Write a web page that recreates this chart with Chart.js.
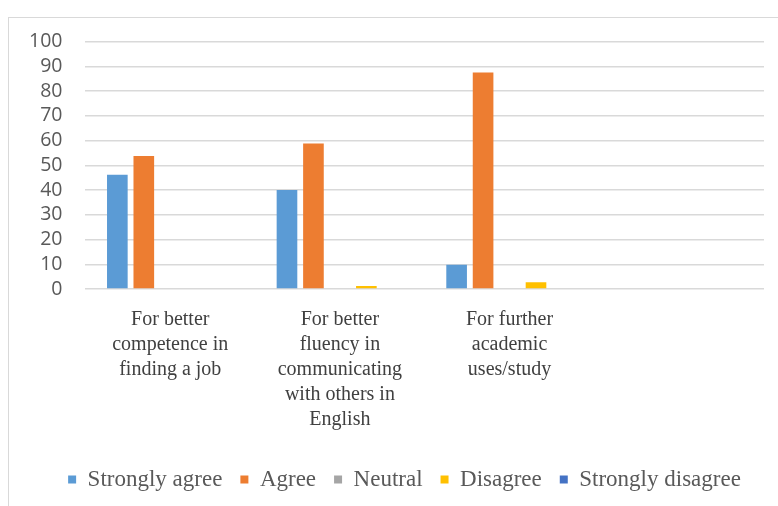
<!DOCTYPE html>
<html>
<head>
<meta charset="utf-8">
<script src="https://cdn.jsdelivr.net/npm/chart.js@4/dist/chart.umd.min.js"></script>
<style>
  body { margin: 0; background: #fff; overflow: hidden; }
  #frame {
    position: absolute; left: 8px; top: 17px;
    width: 800px; height: 500px;
    border-left: 1.5px solid #d9d9d9; border-top: 1.5px solid #d9d9d9;
  }
  #wrap { position: absolute; left: 0; top: 0; width: 792px; height: 489px; }
</style>
</head>
<body>
<div id="frame"><div id="wrap"><canvas id="grafico"></canvas></div></div>
<script>
// categorias (a última fica vazia, como no original)
var categories = [
  ['For better', 'competence in', 'finding a job'],
  ['For better', 'fluency in', 'communicating', 'with others in', 'English'],
  ['For further', 'academic', 'uses/study'],
  ''
];

// valores por série (%)
var stronglyAgree    = [46.2, 40, 9.8, null];
var agree            = [53.8, 58.8, 87.5, null];
var neutral          = [0, 0, 0, null];
var disagree         = [0, 1.2, 2.7, null];
var stronglyDisagree = [0, 0, 0, null];

var yTicks = [0, 10, 20, 30, 40, 50, 60, 70, 80, 90, 100];

var data = {
  labels: categories,
  datasets: [
    { label: 'Strongly agree', backgroundColor: '#5B9BD5', data: stronglyAgree },
    { label: 'Agree', backgroundColor: '#ED7D31', data: agree },
    { label: 'Neutral', backgroundColor: '#A5A5A5', data: neutral },
    { label: 'Disagree', backgroundColor: '#FFC000', data: disagree },
    { label: 'Strongly disagree', backgroundColor: '#4472C4', data: stronglyDisagree }
  ]
};

// empurra a legenda um pouco para a direita, como no original
var moveLegend = {
  id: 'moveLegend',
  afterLayout: function (chart) {
    chart.legend.left += 14;
    chart.legend.right += 14;
  }
};

var options = {
  responsive: true,
  maintainAspectRatio: false,
  animation: false,
  layout: { padding: { left: 8, right: 37, top: 0, bottom: 6 } },
  datasets: { bar: { categoryPercentage: 0.78, barPercentage: 0.78 } },
  plugins: {
    tooltip: { enabled: false },
    legend: {
      position: 'bottom',
      labels: {
        boxWidth: 8, boxHeight: 8, padding: 18,
        color: '#595959',
        font: { family: 'Liberation Serif', size: 23 }
      }
    }
  },
  scales: {
    x: {
      grid: { display: false },
      border: { display: false },
      afterFit: function (axis) { axis.height += 8; },
      ticks: {
        color: '#404040', maxRotation: 0, autoSkip: false, padding: 10,
        font: { family: 'Liberation Serif', size: 20, lineHeight: 1.25 }
      }
    },
    y: {
      min: 0, max: 100,
      afterBuildTicks: function (axis) {
        axis.ticks = yTicks.map(function (v) { return { value: v }; });
      },
      grid: { color: '#d9d9d9', lineWidth: 1.5, drawTicks: true, tickLength: 11, tickColor: 'rgba(0,0,0,0)' },
      border: { display: false },
      ticks: {
        color: '#595959', padding: 12, autoSkip: false,
        font: { family: 'Open Sans', size: 19.5 }
      }
    }
  }
};

var ctx = document.querySelector('#grafico');
var barChart = new Chart(ctx, { type: 'bar', data: data, options: options, plugins: [moveLegend] });
</script>
</body>
</html>
